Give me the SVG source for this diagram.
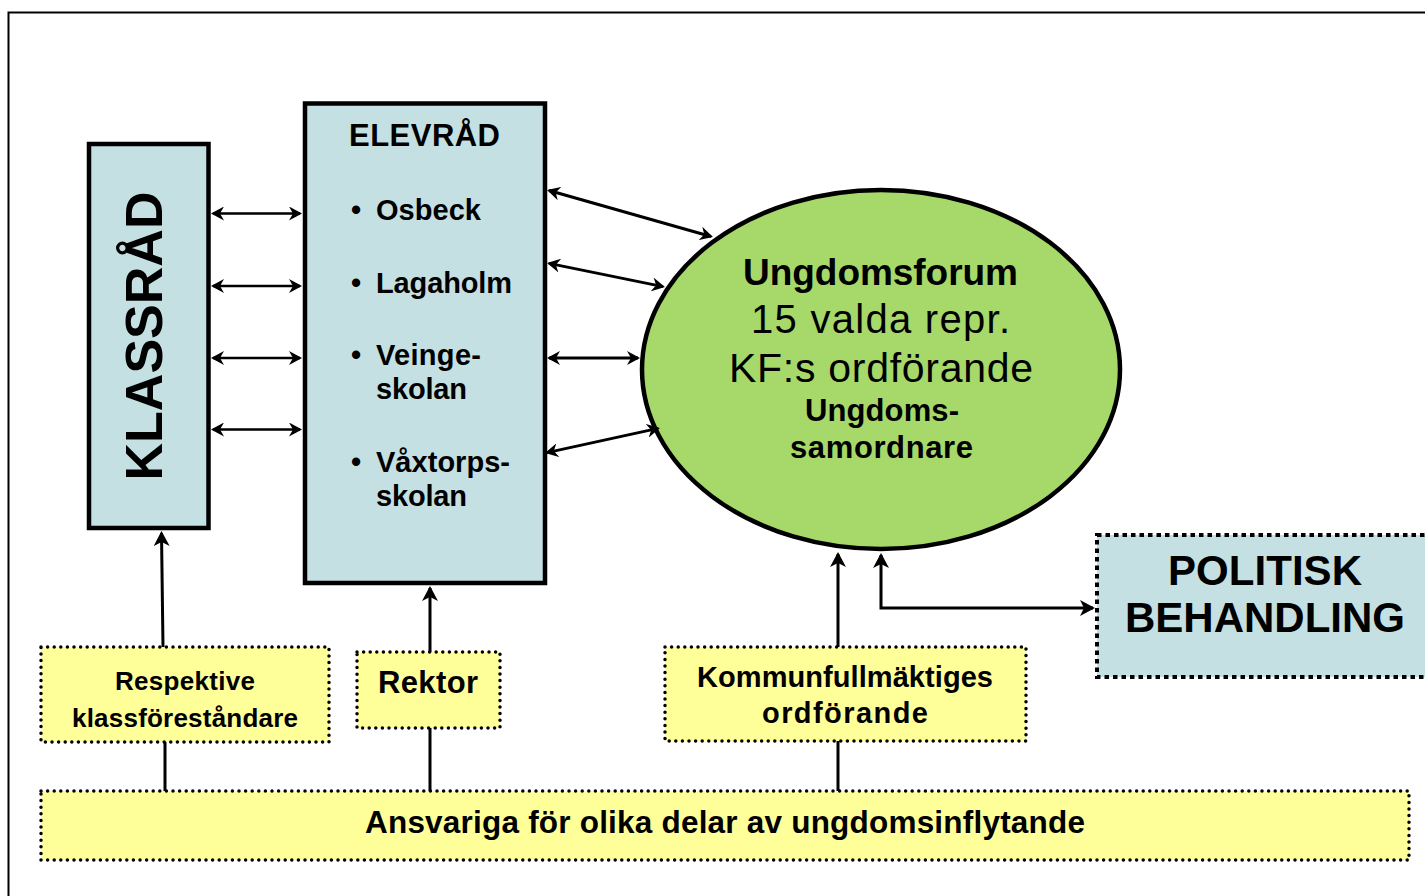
<svg xmlns="http://www.w3.org/2000/svg" width="1425" height="896" viewBox="0 0 1425 896">
<style>
text{font-family:"Liberation Sans",Arial,sans-serif;fill:#000}
.b{font-weight:bold}
.blue{fill:#c5e0e3;stroke:#000;stroke-width:4.5}
.dot{fill:#ffff99;stroke:#000;stroke-width:3.5;stroke-dasharray:0 6.6;stroke-linecap:round}
.dash{fill:#c5e0e3;stroke:#000;stroke-width:4;stroke-dasharray:4.5 4}
.c{fill:none;stroke:#000;stroke-width:3}
</style>
<defs>
<marker id="ah" viewBox="0 0 14 14" refX="11" refY="7" markerWidth="14" markerHeight="14" markerUnits="userSpaceOnUse" orient="auto-start-reverse">
<path d="M13,7 L0,0 L4,7 L0,14 Z" fill="#000"/>
</marker>
<marker id="ahL" viewBox="0 0 16 16" refX="13" refY="8" markerWidth="16" markerHeight="16" markerUnits="userSpaceOnUse" orient="auto-start-reverse">
<path d="M15,8 L0,0 L4,8 L0,16 Z" fill="#000"/>
</marker>
</defs>
<rect x="8.5" y="12.5" width="1440" height="900" fill="#fff" stroke="#000" stroke-width="2"/>

<g id="klassrad">
<rect class="blue" x="89" y="144" width="119.5" height="384"/>
<text class="b" font-size="52" text-anchor="middle" transform="translate(162,336) rotate(-90)">KLASSRÅD</text>
</g>

<g id="elevrad">
<rect class="blue" x="305" y="103.5" width="240" height="479.5"/>
<text class="b" font-size="31" x="349" y="146" textLength="151">ELEVRÅD</text>
<g font-size="29" class="b">
<text x="351" y="220">•</text><text x="376" y="220" textLength="105">Osbeck</text>
<text x="351" y="293">•</text><text x="376" y="293" textLength="136">Lagaholm</text>
<text x="351" y="365">•</text><text x="376" y="365" textLength="105">Veinge-</text>
<text x="376" y="399" textLength="91">skolan</text>
<text x="351" y="472">•</text><text x="376" y="472" textLength="134">Våxtorps-</text>
<text x="376" y="506" textLength="91">skolan</text>
</g>
</g>

<g id="ungdomsforum">
<ellipse cx="881" cy="369.5" rx="239" ry="179.5" fill="#a6d86a" stroke="#000" stroke-width="4.5"/>
<text class="b" font-size="37" x="743" y="285" textLength="275">Ungdomsforum</text>
<text font-size="40" x="751" y="333" textLength="259">15 valda repr.</text>
<text font-size="41" x="729" y="382" textLength="304">KF:s ordförande</text>
<text class="b" font-size="31" x="805" y="421" textLength="154">Ungdoms-</text>
<text class="b" font-size="31" x="790" y="458" textLength="183">samordnare</text>
</g>

<g id="politisk">
<rect class="dash" x="1097" y="535" width="360" height="142"/>
<text class="b" font-size="42" x="1168" y="585" textLength="194">POLITISK</text>
<text class="b" font-size="42" x="1125" y="632" textLength="280">BEHANDLING</text>
</g>

<g id="respektive">
<rect class="dot" x="41" y="647" width="288" height="95"/>
<text class="b" font-size="26" x="115" y="690" textLength="140">Respektive</text>
<text class="b" font-size="26" x="72" y="727" textLength="226">klassföreståndare</text>
</g>

<g id="rektor">
<rect class="dot" x="357" y="652" width="143" height="76"/>
<text class="b" font-size="31" x="378" y="693" textLength="100">Rektor</text>
</g>

<g id="kommun">
<rect class="dot" x="665" y="647" width="361" height="94"/>
<text class="b" font-size="29" x="697" y="687" textLength="296">Kommunfullmäktiges</text>
<text class="b" font-size="29" x="762" y="723" textLength="166">ordförande</text>
</g>

<g id="ansvariga">
<rect class="dot" x="41" y="791" width="1368" height="69"/>
<text class="b" font-size="31.5" x="365" y="833" textLength="720">Ansvariga för olika delar av ungdomsinflytande</text>
</g>

<g id="connectors">
<g stroke="#000" stroke-width="2.5" marker-start="url(#ah)" marker-end="url(#ah)">
<line x1="213" y1="213.5" x2="300" y2="213.5"/>
<line x1="213" y1="286" x2="300" y2="286"/>
<line x1="213" y1="358" x2="300" y2="358"/>
<line x1="213" y1="429.5" x2="300" y2="429.5"/>
</g>
<g stroke="#000" stroke-width="3" marker-start="url(#ah)" marker-end="url(#ah)">
<line x1="549" y1="190.5" x2="711" y2="236.5"/>
<line x1="549" y1="263.4" x2="663" y2="286.6"/>
<line x1="549" y1="358" x2="638" y2="358"/>
<line x1="547" y1="452.6" x2="658" y2="428.4"/>
</g>
<line class="c" x1="163" y1="647" x2="161.5" y2="533" marker-end="url(#ahL)"/>
<line class="c" x1="430" y1="652" x2="430" y2="588" marker-end="url(#ahL)"/>
<line class="c" stroke-width="4" x1="838" y1="647" x2="838" y2="554" marker-end="url(#ahL)"/>
<polyline class="c" points="881,555 881,608 1093,608" marker-start="url(#ahL)" marker-end="url(#ahL)"/>
<line class="c" x1="165" y1="742" x2="165" y2="791"/>
<line class="c" x1="430" y1="728" x2="430" y2="791"/>
<line class="c" x1="838" y1="741" x2="838" y2="791"/>
</g>
</svg>
